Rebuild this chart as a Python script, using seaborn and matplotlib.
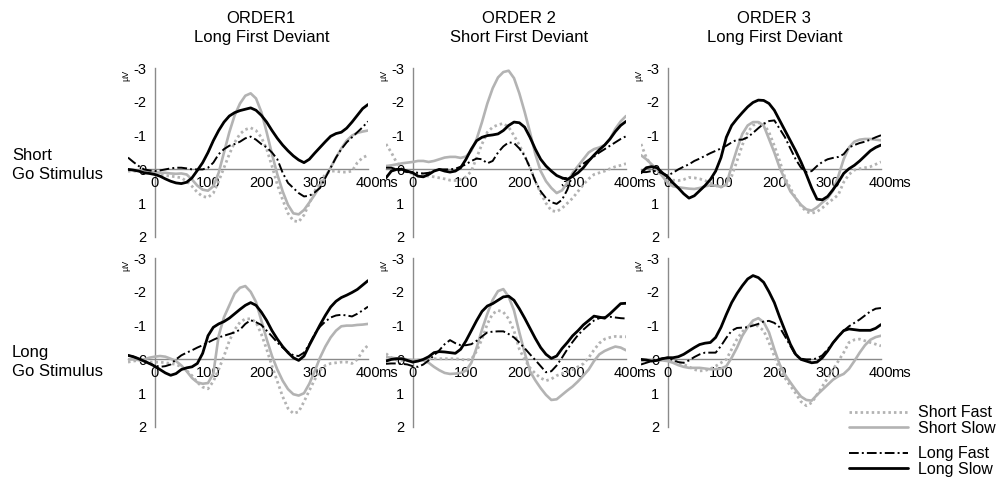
import numpy as np
import pandas as pd
import seaborn as sns
from matplotlib import pyplot as plt
from matplotlib.ticker import MultipleLocator
from matplotlib.transforms import blended_transform_factory

# sampling grid of the ERP traces (ms)
times = list(range(-50, 401, 10))

col_titles = ["ORDER1\nLong First Deviant", "ORDER 2\nShort First Deviant",
              "ORDER 3\nLong First Deviant"]
row_titles = ["Short\nGo Stimulus", "Long\nGo Stimulus"]
conditions = ["Short Fast", "Short Slow", "Long Fast", "Long Slow"]

# --- short go stimulus, order 1
s1_sf = [0.05, 0.05, 0.05, 0.07, 0.1, 0.12, 0.15, 0.18, 0.2, 0.22,
         0.25, 0.35, 0.5, 0.68, 0.8, 0.83, 0.7, 0.35, -0.05, -0.45,
         -0.8, -1.05, -1.18, -1.23, -1.15, -0.95, -0.6, -0.1, 0.45, 0.9,
         1.3, 1.52, 1.55, 1.35, 1.0, 0.65, 0.35, 0.15, 0.05, 0.05,
         0.08, 0.08, 0.05, -0.2, -0.35, -0.42]
s1_ss = [0.0, 0.02, 0.03, 0.03, 0.05, 0.08, 0.1, 0.1, 0.12, 0.13,
         0.12, 0.15, 0.3, 0.48, 0.6, 0.63, 0.5, 0.1, -0.5, -1.1,
         -1.6, -1.95, -2.18, -2.25, -2.1, -1.7, -1.1, -0.45, 0.15, 0.65,
         1.05, 1.3, 1.33, 1.2, 0.98, 0.75, 0.5, 0.22, -0.05, -0.35,
         -0.62, -0.85, -1.0, -1.08, -1.12, -1.15]
s1_lf = [-0.35, -0.22, -0.1, 0.0, 0.03, 0.05, 0.03, 0.0, -0.03, -0.05,
         -0.05, -0.03, 0.0, 0.0, 0.0, -0.05, -0.2, -0.45, -0.6, -0.7,
         -0.75, -0.82, -0.92, -0.97, -0.88, -0.75, -0.65, -0.5, -0.3, 0.1,
         0.4, 0.55, 0.7, 0.8, 0.78, 0.68, 0.55, 0.25, -0.05, -0.35,
         -0.6, -0.8, -0.95, -1.1, -1.25, -1.42]
s1_ls = [0.0, 0.02, 0.05, 0.1, 0.12, 0.15, 0.2, 0.28, 0.35, 0.4,
         0.42, 0.38, 0.25, 0.03, -0.2, -0.5, -0.85, -1.15, -1.4, -1.58,
         -1.68, -1.74, -1.78, -1.82, -1.75, -1.6, -1.4, -1.15, -0.92, -0.72,
         -0.55, -0.4, -0.28, -0.2, -0.3, -0.48, -0.65, -0.82, -0.98, -1.06,
         -1.1, -1.22, -1.4, -1.6, -1.8, -1.92]

# --- short go stimulus, order 2
s2_sf = [-0.75, -0.5, -0.2, 0.0, 0.08, 0.12, 0.15, 0.18, 0.2, 0.22,
         0.25, 0.28, 0.32, 0.33, 0.3, 0.22, 0.05, -0.35, -0.75, -1.1,
         -1.25, -1.32, -1.36, -1.25, -1.0, -0.72, -0.4, -0.05, 0.35, 0.7,
         1.0, 1.22, 1.25, 1.15, 1.0, 0.85, 0.65, 0.45, 0.28, 0.15,
         0.1, 0.05, -0.02, -0.08, -0.12, -0.17]
s2_ss = [-0.1, -0.12, -0.15, -0.18, -0.2, -0.22, -0.25, -0.25, -0.22, -0.25,
         -0.3, -0.35, -0.37, -0.37, -0.34, -0.38, -0.55, -0.9, -1.4, -1.95,
         -2.4, -2.72, -2.88, -2.92, -2.7, -2.25, -1.7, -1.1, -0.45, 0.05,
         0.35, 0.55, 0.7, 0.62, 0.4, 0.1, -0.1, -0.3, -0.5, -0.6,
         -0.65, -0.72, -0.9, -1.2, -1.42, -1.58]
s2_lf = [-0.05, -0.05, 0.0, 0.05, 0.08, 0.08, 0.1, 0.12, 0.1, 0.05,
         0.0, 0.0, 0.0, -0.02, -0.08, -0.15, -0.25, -0.32, -0.3, -0.18,
         -0.25, -0.5, -0.68, -0.8, -0.78, -0.62, -0.4, -0.05, 0.35, 0.65,
         0.85, 0.97, 1.02, 0.9, 0.6, 0.15, -0.05, -0.17, -0.28, -0.38,
         -0.5, -0.6, -0.7, -0.8, -0.9, -0.98]
s2_ls = [0.25, 0.05, 0.0, 0.0, 0.05, 0.1, 0.2, 0.22, 0.15, 0.05,
         0.0, 0.05, 0.08, 0.05, -0.05, -0.3, -0.6, -0.85, -0.95, -1.0,
         -1.02, -1.05, -1.15, -1.3, -1.4, -1.38, -1.25, -0.95, -0.6, -0.3,
         -0.1, 0.05, 0.18, 0.25, 0.3, 0.2, 0.1, -0.05, -0.25, -0.42,
         -0.58, -0.72, -0.9, -1.12, -1.3, -1.42]

# --- short go stimulus, order 3
s3_sf = [-0.75, -0.35, -0.1, 0.05, 0.18, 0.28, 0.32, 0.33, 0.3, 0.24,
         0.25, 0.28, 0.33, 0.4, 0.48, 0.52, 0.48, 0.2, -0.25, -0.72,
         -1.1, -1.3, -1.38, -1.35, -1.1, -0.7, -0.25, 0.25, 0.55, 0.85,
         1.08, 1.25, 1.3, 1.25, 1.14, 1.0, 0.88, 0.75, 0.38, 0.15,
         0.02, -0.02, -0.05, -0.08, -0.15, -0.22]
s3_ss = [-0.42, -0.3, -0.15, 0.0, 0.2, 0.4, 0.5, 0.53, 0.55, 0.57,
         0.58, 0.55, 0.5, 0.47, 0.48, 0.52, 0.45, -0.1, -0.6, -1.05,
         -1.3, -1.4, -1.4, -1.3, -0.9, -0.5, -0.05, 0.3, 0.65, 0.85,
         1.05, 1.18, 1.22, 1.12, 0.98, 0.85, 0.63, 0.2, -0.3, -0.65,
         -0.82, -0.88, -0.9, -0.9, -0.88, -0.86]
s3_lf = [0.08, 0.08, 0.05, 0.05, 0.12, 0.18, 0.1, 0.0, -0.08, -0.15,
         -0.25, -0.32, -0.4, -0.48, -0.55, -0.62, -0.7, -0.8, -0.88, -0.88,
         -0.95, -1.08, -1.22, -1.35, -1.43, -1.45, -1.2, -0.95, -0.62, -0.3,
         -0.05, 0.08, 0.05, -0.1, -0.22, -0.3, -0.34, -0.37, -0.45, -0.65,
         -0.72, -0.78, -0.82, -0.88, -0.95, -1.01]
s3_ls = [0.1, -0.05, -0.08, -0.05, 0.1, 0.22, 0.4, 0.55, 0.72, 0.85,
         0.78, 0.63, 0.48, 0.3, 0.05, -0.35, -0.95, -1.3, -1.5, -1.68,
         -1.85, -1.98, -2.05, -2.04, -1.95, -1.75, -1.45, -1.15, -0.85, -0.55,
         -0.22, 0.15, 0.55, 0.88, 0.9, 0.8, 0.6, 0.38, 0.12, -0.02,
         -0.12, -0.25, -0.4, -0.55, -0.65, -0.72]

# --- long go stimulus, order 1
l1_sf = [0.08, 0.05, 0.03, 0.05, 0.08, 0.08, 0.08, 0.1, 0.12, 0.15,
         0.22, 0.33, 0.48, 0.68, 0.82, 0.87, 0.65, 0.3, -0.1, -0.55,
         -0.88, -1.1, -1.2, -1.2, -1.1, -0.75, -0.3, 0.2, 0.65, 1.1,
         1.45, 1.6, 1.55, 1.25, 0.92, 0.6, 0.32, 0.18, 0.12, 0.1,
         0.08, 0.08, 0.12, 0.0, -0.25, -0.42]
l1_ss = [0.0, 0.0, 0.02, 0.0, -0.05, -0.08, -0.1, -0.08, -0.02, 0.05,
         0.18, 0.35, 0.55, 0.68, 0.72, 0.7, 0.42, -0.7, -1.25, -1.6,
         -1.95, -2.12, -2.17, -2.0, -1.7, -1.15, -0.6, -0.1, 0.3, 0.63,
         0.88, 1.03, 1.07, 1.0, 0.72, 0.35, -0.05, -0.38, -0.65, -0.85,
         -0.98, -1.0, -1.0, -1.02, -1.03, -1.05]
l1_lf = [-0.12, -0.08, -0.02, 0.05, 0.12, 0.18, 0.22, 0.2, 0.15, 0.0,
         -0.12, -0.2, -0.27, -0.35, -0.42, -0.5, -0.58, -0.65, -0.7, -0.75,
         -0.8, -0.88, -1.05, -1.16, -1.1, -1.02, -0.85, -0.68, -0.5, -0.35,
         -0.22, -0.12, -0.1, -0.2, -0.45, -0.75, -0.97, -1.12, -1.24, -1.3,
         -1.32, -1.3, -1.27, -1.35, -1.45, -1.56]
l1_ls = [-0.12, -0.08, -0.02, 0.05, 0.12, 0.2, 0.3, 0.4, 0.47, 0.42,
         0.3, 0.25, 0.22, 0.12, -0.18, -0.7, -0.95, -1.05, -1.12, -1.22,
         -1.35, -1.48, -1.6, -1.68, -1.6, -1.4, -1.15, -0.85, -0.6, -0.38,
         -0.2, -0.05, 0.03, -0.1, -0.42, -0.72, -1.02, -1.3, -1.55, -1.72,
         -1.83, -1.9, -1.98, -2.07, -2.2, -2.33]

# --- long go stimulus, order 2
l2_sf = [-0.17, -0.05, 0.02, 0.03, 0.03, 0.03, 0.02, 0.0, -0.02, -0.02,
         -0.02, -0.02, -0.02, -0.02, 0.0, 0.02, 0.0, -0.25, -0.6, -1.05,
         -1.35, -1.45, -1.4, -1.2, -0.85, -0.3, 0.0, 0.25, 0.42, 0.55,
         0.63, 0.58, 0.48, 0.42, 0.35, 0.3, 0.22, 0.13, -0.05, -0.28,
         -0.48, -0.6, -0.65, -0.68, -0.67, -0.67]
l2_ss = [-0.07, -0.05, -0.03, -0.02, 0.0, 0.02, 0.02, 0.03, 0.1, 0.22,
         0.32, 0.4, 0.43, 0.42, 0.4, 0.33, 0.1, -0.35, -0.88, -1.35,
         -1.76, -2.02, -2.08, -1.85, -1.45, -0.8, -0.2, 0.35, 0.62, 0.85,
         1.05, 1.2, 1.18, 1.05, 0.92, 0.8, 0.65, 0.48, 0.3, 0.05,
         -0.15, -0.25, -0.32, -0.38, -0.35, -0.27]
l2_lf = [0.13, 0.12, 0.12, 0.13, 0.15, 0.2, 0.22, 0.15, 0.03, -0.12,
         -0.27, -0.45, -0.57, -0.48, -0.42, -0.42, -0.45, -0.55, -0.68, -0.8,
         -0.82, -0.83, -0.83, -0.75, -0.65, -0.5, -0.33, -0.15, 0.02, 0.2,
         0.38, 0.35, 0.18, -0.05, -0.3, -0.52, -0.72, -0.88, -1.02, -1.15,
         -1.22, -1.25, -1.26, -1.24, -1.22, -1.21]
l2_ls = [0.05, 0.0, -0.02, -0.02, 0.03, 0.08, 0.05, 0.0, -0.08, -0.2,
         -0.23, -0.22, -0.2, -0.18, -0.3, -0.55, -0.85, -1.15, -1.42, -1.58,
         -1.65, -1.75, -1.85, -1.87, -1.75, -1.5, -1.22, -0.92, -0.62, -0.35,
         -0.15, -0.03, -0.1, -0.32, -0.5, -0.7, -0.85, -1.02, -1.15, -1.28,
         -1.25, -1.22, -1.35, -1.5, -1.65, -1.66]

# --- long go stimulus, order 3
l3_sf = [0.05, 0.03, 0.02, 0.0, 0.0, 0.0, 0.05, 0.1, 0.15, 0.22,
         0.3, 0.34, 0.33, 0.28, 0.2, 0.1, 0.0, -0.3, -0.6, -0.82,
         -0.97, -1.03, -0.98, -0.85, -0.5, -0.1, 0.3, 0.55, 0.78, 1.0,
         1.25, 1.37, 1.28, 1.05, 0.8, 0.55, 0.3, 0.05, -0.2, -0.5,
         -0.58, -0.6, -0.55, -0.5, -0.45, -0.4]
l3_ss = [0.0, 0.0, 0.02, 0.03, 0.03, 0.05, 0.1, 0.17, 0.22, 0.25,
         0.25, 0.25, 0.27, 0.29, 0.29, 0.27, 0.2, -0.05, -0.35, -0.7,
         -0.95, -1.15, -1.22, -1.1, -0.8, -0.3, 0.15, 0.45, 0.68, 0.9,
         1.1, 1.2, 1.22, 1.05, 0.9, 0.75, 0.6, 0.5, 0.43, 0.28,
         0.05, -0.2, -0.42, -0.58, -0.66, -0.7]
l3_lf = [0.15, 0.1, 0.05, 0.0, -0.03, -0.05, 0.02, 0.08, 0.1, 0.03,
         -0.07, -0.15, -0.2, -0.2, -0.2, -0.4, -0.64, -0.85, -0.93, -0.94,
         -0.95, -1.0, -1.05, -1.12, -1.14, -1.08, -0.95, -0.68, -0.4, -0.12,
         -0.02, 0.0, 0.0, -0.03, -0.12, -0.3, -0.49, -0.68, -0.85, -0.98,
         -1.08, -1.18, -1.3, -1.42, -1.5, -1.52]
l3_ls = [0.0, 0.02, 0.05, 0.03, -0.02, -0.05, -0.05, -0.08, -0.15, -0.25,
         -0.35, -0.44, -0.48, -0.5, -0.65, -0.95, -1.33, -1.68, -1.95, -2.18,
         -2.38, -2.48, -2.42, -2.28, -2.0, -1.68, -1.25, -0.85, -0.45, -0.15,
         0.0, 0.05, 0.1, 0.08, -0.05, -0.25, -0.49, -0.68, -0.85, -0.9,
         -0.88, -0.86, -0.86, -0.86, -0.92, -1.03]

panels = [
    [(s1_sf, s1_ss, s1_lf, s1_ls), (s2_sf, s2_ss, s2_lf, s2_ls), (s3_sf, s3_ss, s3_lf, s3_ls)],
    [(l1_sf, l1_ss, l1_lf, l1_ls), (l2_sf, l2_ss, l2_lf, l2_ls), (l3_sf, l3_ss, l3_lf, l3_ls)],
]

light_grey = "#b3b3b3"
axis_grey = "#8a8a8a"
line_styles = {
    "Short Fast": dict(color=light_grey, lw=2.0, linestyle=(0, (0.9, 1.1))),
    "Short Slow": dict(color=light_grey, lw=1.9, linestyle="-"),
    "Long Fast": dict(color="black", lw=1.4, linestyle=(0, (5, 1.6, 1, 1.6))),
    "Long Slow": dict(color="black", lw=2.0, linestyle="-"),
}

sns.set_style("white")
plt.rcParams["font.family"] = ["Liberation Sans", "DejaVu Sans"]
plt.rcParams["text.color"] = "black"
plt.rcParams["xtick.labelcolor"] = "black"
plt.rcParams["ytick.labelcolor"] = "black"

W, H = 1003, 497
fig = plt.figure(figsize=(W / 100, H / 100), dpi=100)

col_left = [128, 386, 641]
row_top = [68, 258]
ax_w, ax_h = 240, 169
tick_fs = 10.5

handles = {}
for r in range(2):
    for c in range(3):
        ax = fig.add_axes([col_left[c] / W, 1 - (row_top[r] + ax_h) / H, ax_w / W, ax_h / H])
        for name, vals in zip(conditions, panels[r][c]):
            df = pd.DataFrame({"time": times, "amp": vals})
            sns.lineplot(data=df, x="time", y="amp", ax=ax, legend=False,
                         **line_styles[name])
            handles[name] = ax.lines[-1]

        ax.set_xlim(-50, 400)
        ax.set_ylim(2, -3)
        ax.set_xlabel("")
        ax.set_ylabel("")
        ax.patch.set_alpha(0)
        for side in ["top", "right"]:
            ax.spines[side].set_visible(False)
        ax.spines["left"].set_position(("data", 0))
        ax.spines["bottom"].set_position(("data", 0))
        for side in ["left", "bottom"]:
            ax.spines[side].set_color(axis_grey)
            ax.spines[side].set_linewidth(1.0)
            ax.spines[side].set_zorder(0.5)

        ax.set_xticks([0, 100, 200, 300, 400])
        ax.set_xticklabels(["0", "100", "200", "300", "400"])
        ax.xaxis.set_minor_locator(MultipleLocator(50))
        ax.set_yticks([-3, -2, -1, 0, 1, 2])
        ax.set_yticklabels(["-3", "-2", "-1", "0", "1", "2"])
        ax.tick_params(axis="x", which="both", direction="in", length=3,
                       color=axis_grey, labelsize=tick_fs, pad=5)
        ax.tick_params(axis="y", direction="out", length=3, color=axis_grey,
                       labelsize=tick_fs, pad=3)
        ax.annotate("ms", xy=(400, 0), xycoords="data", xytext=(7.5, -5),
                    textcoords="offset points", ha="left", va="top", fontsize=tick_fs)

        # small unit label next to the top of the y axis
        ax.text(-0.01, 0.955, "µV", transform=ax.transAxes, rotation=90,
                ha="center", va="center", fontsize=6.5)

        if r == 0:
            trans = blended_transform_factory(ax.transData, fig.transFigure)
            ax.text(200, 1 - 28 / H, col_titles[c], transform=trans,
                    ha="center", va="center", fontsize=12, linespacing=1.35)

for r, label in enumerate(row_titles):
    fig.text(12 / W, 1 - (165 + r * 197) / H, label, ha="left", va="center",
             fontsize=12, linespacing=1.3)

leg_kw = dict(loc="upper left", frameon=False, fontsize=11.5, handlelength=3.7,
              handletextpad=0.6, labelspacing=0.05, borderpad=0.2)
fig.legend([handles["Short Fast"], handles["Short Slow"]], ["Short Fast", "Short Slow"],
           bbox_to_anchor=(838 / W, 1 - 394 / H), **leg_kw)
fig.legend([handles["Long Fast"], handles["Long Slow"]], ["Long Fast", "Long Slow"],
           bbox_to_anchor=(838 / W, 1 - 435 / H), **leg_kw)

fig.savefig("out.png", dpi=100)
